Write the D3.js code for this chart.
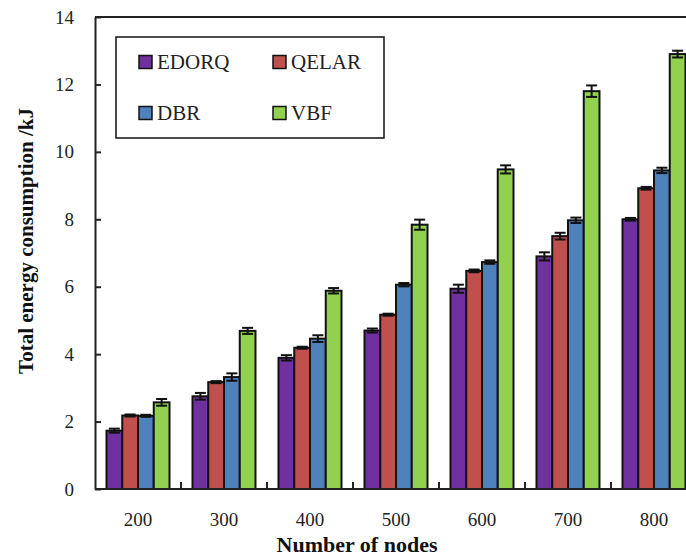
<!DOCTYPE html>
<html>
<head>
<meta charset="utf-8">
<script src="https://cdn.jsdelivr.net/npm/d3@7/dist/d3.min.js"></script>
<style>
  html, body { margin: 0; padding: 0; background: #fff; }
  svg { display: block; }
</style>
</head>
<body>
<svg id="chart" width="686" height="556"></svg>
<script>
// Number of nodes in the network
const categories = ["200", "300", "400", "500", "600", "700", "800"];
const seriesNames = ["EDORQ", "QELAR", "DBR", "VBF"];
const seriesColors = ["#7030A0", "#C0504D", "#4F81BD", "#92D050"];

// Total energy consumption (kJ) per protocol
const edorq = [1.73, 2.75, 3.89, 4.70, 5.94, 6.90, 8.00];
const qelar = [2.18, 3.17, 4.19, 5.17, 6.47, 7.50, 8.92];
const dbr   = [2.17, 3.32, 4.46, 6.06, 6.73, 7.97, 9.45];
const vbf   = [2.57, 4.69, 5.88, 7.84, 9.48, 11.80, 12.90];

// Error (± kJ) per protocol
const edorqErr = [0.06, 0.10, 0.08, 0.06, 0.12, 0.12, 0.04];
const qelarErr = [0.03, 0.03, 0.03, 0.03, 0.04, 0.10, 0.04];
const dbrErr   = [0.03, 0.11, 0.10, 0.05, 0.05, 0.08, 0.08];
const vbfErr   = [0.10, 0.09, 0.08, 0.15, 0.12, 0.17, 0.10];

const yTicks = [0, 2, 4, 6, 8, 10, 12, 14];

const values = [edorq, qelar, dbr, vbf];
const errors = [edorqErr, qelarErr, dbrErr, vbfErr];

const svg = d3.select("#chart");
const plotLeft = 95, plotRight = 697, plotTop = 17, plotBottom = 489;
const serif = "'Liberation Serif', 'Times New Roman', serif";

const x0 = d3.scaleBand().domain(categories).range([plotLeft, plotRight]).paddingInner(0).paddingOuter(0);
const x1 = d3.scaleBand().domain(seriesNames).range([0, x0.bandwidth()]).paddingInner(0).paddingOuter(0.73);
const y = d3.scaleLinear().domain([0, 14]).range([plotBottom, plotTop]);

// Bars
const rows = [];
categories.forEach((c, i) => {
  seriesNames.forEach((s, j) => {
    rows.push({ cat: c, name: s, color: seriesColors[j], v: values[j][i], e: errors[j][i] });
  });
});

const g = svg.append("g");
g.selectAll("rect.bar").data(rows).join("rect")
  .attr("class", "bar")
  .attr("x", d => x0(d.cat) + x1(d.name))
  .attr("y", d => y(d.v))
  .attr("width", x1.bandwidth())
  .attr("height", d => y(0) - y(d.v))
  .attr("fill", d => d.color)
  .attr("stroke", "#111")
  .attr("stroke-width", 2);

// Error bars
const eb = g.selectAll("g.err").data(rows).join("g").attr("class", "err")
  .attr("stroke", "#111").attr("stroke-width", 2);
const cx = d => x0(d.cat) + x1(d.name) + x1.bandwidth() / 2;
eb.append("line")
  .attr("x1", cx).attr("x2", cx)
  .attr("y1", d => y(d.v + d.e)).attr("y2", d => y(d.v - d.e));
eb.append("line")
  .attr("x1", d => cx(d) - 5.5).attr("x2", d => cx(d) + 5.5)
  .attr("y1", d => y(d.v + d.e)).attr("y2", d => y(d.v + d.e));
eb.append("line")
  .attr("x1", d => cx(d) - 5.5).attr("x2", d => cx(d) + 5.5)
  .attr("y1", d => y(d.v - d.e)).attr("y2", d => y(d.v - d.e));

// Y axis with inward ticks
const yAxis = d3.axisLeft(y).tickValues(yTicks).tickSizeInner(-6).tickSizeOuter(0).tickPadding(21);
const ya = svg.append("g").attr("transform", `translate(${plotLeft},0)`).call(yAxis);
ya.select(".domain").attr("stroke", "#222").attr("stroke-width", 2);
ya.selectAll(".tick line").attr("stroke", "#222").attr("stroke-width", 2);
ya.selectAll(".tick text").attr("font-family", serif).attr("font-size", 19).attr("fill", "#222");

// X axis: ticks at group boundaries, inward
const xa = svg.append("g").attr("transform", `translate(0,${plotBottom})`);
xa.append("line").attr("x1", plotLeft).attr("x2", plotRight).attr("y1", 0).attr("y2", 0)
  .attr("stroke", "#222").attr("stroke-width", 2);
xa.selectAll("line.tk").data(categories.slice(1)).join("line").attr("class", "tk")
  .attr("x1", d => x0(d)).attr("x2", d => x0(d))
  .attr("y1", 0).attr("y2", -7)
  .attr("stroke", "#222").attr("stroke-width", 2);
xa.selectAll("text").data(categories).join("text")
  .attr("x", d => x0(d) + x0.bandwidth() / 2)
  .attr("y", 37)
  .attr("text-anchor", "middle")
  .attr("font-family", serif).attr("font-size", 19).attr("fill", "#222")
  .text(d => d);

// Top frame line
svg.append("line").attr("x1", plotLeft).attr("x2", plotRight).attr("y1", plotTop).attr("y2", plotTop)
  .attr("stroke", "#222").attr("stroke-width", 2);

// Axis titles
svg.append("text")
  .attr("x", 357).attr("y", 552)
  .attr("text-anchor", "middle")
  .attr("font-family", serif).attr("font-size", 22).attr("font-weight", "bold").attr("fill", "#111")
  .text("Number of nodes");
svg.append("text")
  .attr("transform", "translate(33,241) rotate(-90)")
  .attr("text-anchor", "middle")
  .attr("font-family", serif).attr("font-size", 21).attr("font-weight", "bold").attr("fill", "#111")
  .text("Total energy consumption /kJ");

// Legend
const lg = svg.append("g");
lg.append("rect").attr("x", 116).attr("y", 37).attr("width", 268).attr("height", 101)
  .attr("fill", "#fff").attr("stroke", "#111").attr("stroke-width", 1.5);
const legPos = [[139, 62], [273, 62], [139, 113], [273, 113]];
seriesNames.forEach((s, i) => {
  const [lx, ly] = legPos[i];
  lg.append("rect").attr("x", lx).attr("y", ly - 6.5).attr("width", 13).attr("height", 13)
    .attr("fill", seriesColors[i]).attr("stroke", "#111").attr("stroke-width", 1.5);
  lg.append("text").attr("x", lx + 18).attr("y", ly + 7)
    .attr("font-family", serif).attr("font-size", 21).attr("fill", "#222")
    .text(s);
});
</script>
</body>
</html>
